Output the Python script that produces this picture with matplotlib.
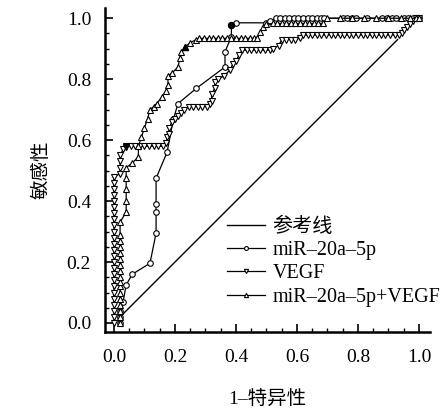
import matplotlib
matplotlib.use("Agg")
import matplotlib.pyplot as plt
from matplotlib.ticker import MultipleLocator

plt.rcParams['font.family'] = ['Liberation Serif', 'Noto Sans CJK SC', 'DejaVu Sans']

# ---------------------
# DATA
# ---------------------
ref_x = [0.02, 0.93]
ref_y = [0.02, 0.93]

mir_x = [0.02, 0.02, 0.02, 0.03, 0.04, 0.06, 0.118, 0.138, 0.138, 0.138, 0.138,
         0.174, 0.195, 0.21, 0.27, 0.364, 0.364, 0.385, 0.385, 0.40, 0.50, 0.51,
         0.53, 0.545, 0.56, 0.575, 0.59, 0.605, 0.62, 0.635, 0.65, 0.665, 0.68, 0.69,
         0.75, 0.765, 0.78, 0.795, 0.83, 0.88, 0.895, 0.91, 0.925, 0.95, 0.965, 0.98, 1.00]
mir_y = [0.00, 0.02, 0.04, 0.07, 0.125, 0.16, 0.196, 0.295, 0.365, 0.39, 0.475,
         0.56, 0.67, 0.72, 0.77, 0.84, 0.89, 0.94, 0.977, 0.985, 0.985, 0.99,
         1.00, 1.00, 1.00, 1.00, 1.00, 1.00, 1.00, 1.00, 1.00, 1.00, 1.00, 1.00,
         1.00, 1.00, 1.00, 1.00, 1.00, 1.00, 1.00, 1.00, 1.00, 1.00, 1.00, 1.00, 1.00]

vegf_x = [0.00, 0.00, 0.00, 0.00, 0.00, 0.00, 0.00, 0.00, 0.00, 0.00, 0.00, 0.00,
          0.00, 0.00, 0.00, 0.00, 0.00, 0.00, 0.00, 0.00, 0.00, 0.00, 0.00, 0.00, 0.00,
          0.02, 0.02, 0.02, 0.02, 0.03, 0.04, 0.055, 0.07,
          0.085, 0.10, 0.115, 0.13, 0.145, 0.16, 0.17, 0.175, 0.18, 0.18, 0.19, 0.20, 0.21, 0.22,
          0.23, 0.245, 0.26, 0.275, 0.29, 0.305, 0.315, 0.32, 0.32, 0.33, 0.33, 0.34, 0.36, 0.38,
          0.39, 0.40, 0.41, 0.42, 0.435, 0.45, 0.465, 0.48, 0.495, 0.51, 0.52, 0.54, 0.55, 0.565,
          0.58, 0.595, 0.61, 0.62, 0.635, 0.65, 0.665, 0.68, 0.695, 0.71, 0.725, 0.74, 0.755,
          0.77, 0.785, 0.80, 0.815, 0.83, 0.845, 0.86, 0.875, 0.89, 0.905, 0.92, 0.935,
          0.945, 0.95, 0.96, 0.97, 0.98, 0.99, 1.00]
vegf_y = [0.00, 0.02, 0.04, 0.06, 0.08, 0.10, 0.12, 0.14, 0.16, 0.18, 0.20, 0.22,
          0.24, 0.26, 0.28, 0.30, 0.32, 0.34, 0.36, 0.38, 0.40, 0.42, 0.44, 0.46, 0.48,
          0.49, 0.51, 0.53, 0.55, 0.57, 0.58, 0.58, 0.58,
          0.58, 0.58, 0.58, 0.58, 0.58, 0.58, 0.59, 0.61, 0.62, 0.64, 0.66, 0.67, 0.68, 0.69,
          0.70, 0.71, 0.71, 0.71, 0.71, 0.71, 0.72, 0.73, 0.75, 0.77, 0.79, 0.80, 0.81, 0.83,
          0.85, 0.86, 0.88, 0.895, 0.895, 0.895, 0.895, 0.895, 0.895, 0.895, 0.90, 0.91, 0.93, 0.93,
          0.93, 0.93, 0.935, 0.945, 0.945, 0.945, 0.945, 0.945, 0.945, 0.945, 0.945, 0.945, 0.945,
          0.945, 0.945, 0.945, 0.945, 0.945, 0.945, 0.945, 0.945, 0.945, 0.945, 0.945, 0.945,
          0.95, 0.96, 0.97, 0.98, 0.99, 1.00, 1.00]

comb_x = [0.02, 0.02, 0.02, 0.02, 0.02, 0.02, 0.02, 0.02, 0.02, 0.02, 0.02, 0.02,
          0.02, 0.02, 0.02, 0.02, 0.02, 0.04, 0.04, 0.04, 0.04, 0.04, 0.06, 0.08, 0.08,
          0.09, 0.10, 0.11, 0.118, 0.13, 0.14, 0.156, 0.17, 0.177, 0.177, 0.19, 0.21, 0.216,
          0.22, 0.233, 0.25, 0.27, 0.28, 0.295, 0.31, 0.325, 0.34, 0.355, 0.37, 0.385, 0.40,
          0.415, 0.43, 0.445, 0.46, 0.47, 0.48, 0.49, 0.50, 0.52, 0.535, 0.55, 0.565, 0.58,
          0.595, 0.61, 0.625, 0.64, 0.655, 0.67, 0.685, 0.70, 0.74, 0.78, 0.82, 0.86, 0.90,
          0.94, 0.97, 0.99, 1.00]
comb_y = [0.00, 0.02, 0.04, 0.06, 0.08, 0.10, 0.12, 0.135, 0.15, 0.17, 0.19, 0.21,
          0.23, 0.25, 0.27, 0.29, 0.33, 0.365, 0.40, 0.44, 0.475, 0.51, 0.525, 0.545, 0.58,
          0.61, 0.64, 0.67, 0.70, 0.71, 0.72, 0.74, 0.76, 0.78, 0.81, 0.82, 0.84, 0.87,
          0.89, 0.905, 0.92, 0.93, 0.934, 0.934, 0.934, 0.934, 0.934, 0.934, 0.934, 0.934, 0.934,
          0.934, 0.934, 0.934, 0.934, 0.934, 0.955, 0.97, 0.98, 0.983, 0.983, 0.983, 0.983, 0.983,
          0.983, 0.983, 0.983, 0.983, 0.983, 0.983, 0.983, 1.00, 1.00, 1.00, 1.00, 1.00, 1.00,
          1.00, 1.00, 1.00, 1.00]

# optimal cut-off points (filled markers)
cut_x = [0.04, 0.385, 0.233]
cut_y = [0.577, 0.977, 0.905]
cut_m = ["v", "o", "^"]

labels = ["参考线", "miR–20a–5p", "VEGF", "miR–20a–5p+VEGF"]

# ---------------------
# PLOT
# ---------------------
fig = plt.figure(figsize=(4.46, 4.09), dpi=100)
ax = fig.add_axes([0.2354, 0.1883, 0.7286, 0.7917])

ax.plot(ref_x, ref_y, color="black", lw=1.0, label=labels[0])
ax.plot(mir_x, mir_y, color="black", lw=0.9, marker="o", ms=4,
        mfc="white", mec="black", mew=0.8, label=labels[1])
ax.plot(vegf_x, vegf_y, color="black", lw=0.9, marker="v", ms=4.3,
        mfc="white", mec="black", mew=0.8, label=labels[2])
ax.plot(comb_x, comb_y, color="black", lw=0.9, marker="^", ms=4.3,
        mfc="white", mec="black", mew=0.8, label=labels[3])
for cx, cy, m in zip(cut_x, cut_y, cut_m):
    ax.plot(cx, cy, marker=m, ms=4.3, color="black", ls="none")

ax.set_xlim(-0.0295, 1.036)
ax.set_ylim(-0.0295, 1.033)

for s in ["top", "right"]:
    ax.spines[s].set_visible(False)
for s in ["left", "bottom"]:
    ax.spines[s].set_linewidth(1.8)

ax.xaxis.set_major_locator(MultipleLocator(0.2))
ax.xaxis.set_minor_locator(MultipleLocator(0.05))
ax.yaxis.set_major_locator(MultipleLocator(0.2))
ax.yaxis.set_minor_locator(MultipleLocator(0.05))
ax.xaxis.set_major_formatter(lambda v, p: f"{v:.1f}")
ax.yaxis.set_major_formatter(lambda v, p: f"{v:.1f}")
ax.tick_params(which="major", direction="in", length=6, width=1.2, labelsize=14)
ax.tick_params(which="minor", direction="in", length=3, width=1.0)
ax.tick_params(axis="x", which="major", pad=12)
ax.tick_params(axis="y", which="major", pad=10)

ax.set_xlabel("1–特异性", fontsize=14, labelpad=18)
ax.set_ylabel("敏感性", fontsize=14, labelpad=12)

leg = ax.legend(loc="lower right", bbox_to_anchor=(1.075, 0.035), frameon=False,
                fontsize=14.5, handlelength=1.9, handletextpad=0.35,
                labelspacing=0.2, markerscale=0.7, borderpad=0.2)

plt.savefig("out.png", dpi=100)
